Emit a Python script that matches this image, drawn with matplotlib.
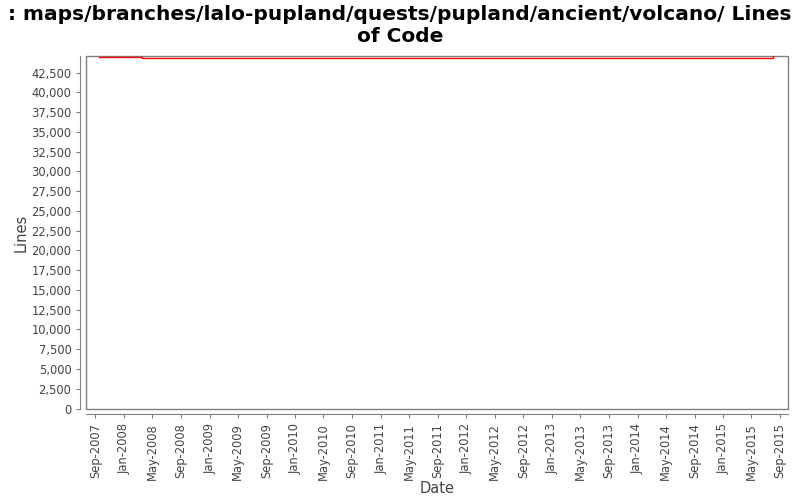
import matplotlib
matplotlib.use("Agg")
import matplotlib.pyplot as plt
import matplotlib.dates as mdates
from matplotlib.patches import Rectangle
from matplotlib.ticker import MultipleLocator, FuncFormatter
from datetime import datetime

# data
dates = [datetime(2007, 9, 15), datetime(2008, 3, 18), datetime(2015, 8, 3)]
lines = [44430, 44300, 44540]

title = ": maps/branches/lalo-pupland/quests/pupland/ancient/volcano/ Lines\nof Code"

fig = plt.figure(figsize=(8, 5), dpi=100)
ax = fig.add_axes([0.1075, 0.183, 0.8775, 0.7045])

ax.plot(dates, lines, color="red", lw=1, drawstyle="steps-post")

ax.set_xlim(datetime(2007, 7, 23), datetime(2015, 10, 5))
ax.set_ylim(0, 44560)

ax.xaxis.set_major_locator(mdates.MonthLocator(bymonth=[1, 5, 9]))
ax.xaxis.set_major_formatter(mdates.DateFormatter("%b-%Y"))
ax.yaxis.set_major_locator(MultipleLocator(2500))
ax.yaxis.set_major_formatter(FuncFormatter(lambda v, p: "{:,.0f}".format(v)))

ax.tick_params(axis="x", labelrotation=90)
ax.tick_params(axis="both", labelsize=8.3, labelcolor="#444444", color="gray",
               length=3, width=0.8)

# jfreechart style: axis lines offset from the plot box
for s in ["top", "right"]:
    ax.spines[s].set_visible(False)
for s in ["left", "bottom"]:
    ax.spines[s].set_position(("outward", 4))
    ax.spines[s].set_color("gray")
ax.add_patch(Rectangle((0, 0), 1, 1, transform=ax.transAxes, fill=False,
                       edgecolor="gray", lw=1, clip_on=False))

ax.set_xlabel("Date", fontsize=10.5, color="#444444", labelpad=1)
ax.set_ylabel("Lines", fontsize=10.5, color="#444444", labelpad=2)

fig.suptitle(title, fontsize=14.5, fontweight="bold", y=0.99, linespacing=1.2)

fig.savefig("out.png", dpi=100)
